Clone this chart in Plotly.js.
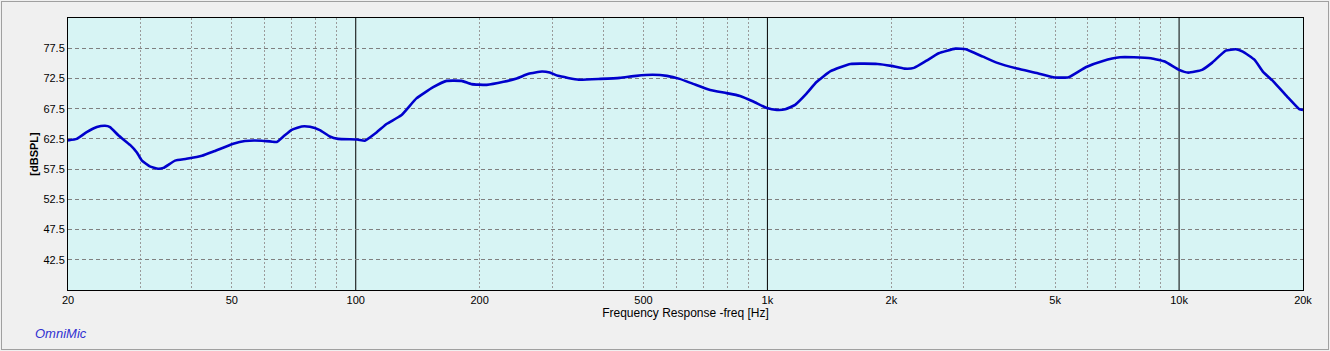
<!DOCTYPE html>
<html>
<head>
<meta charset="utf-8">
<script src="https://cdn.plot.ly/plotly-3.0.1.min.js"></script>
<style>
  html, body { margin: 0; padding: 0; background: #f0f0f0; }
  #chart { position: absolute; left: 0; top: 0; width: 1330px; height: 351px; }
  #frame { position: absolute; left: 1px; top: 1px; width: 1328px; height: 349px;
           box-sizing: border-box; border: 1px solid #a0a0a0; pointer-events: none; }
</style>
</head>
<body>
<div id="chart"></div>
<div id="frame"></div>
<script>
// Frequency response data (Hz, dB SPL)
const freqHz = [20, 21.0, 22.2, 23.5, 24.6, 25.3, 26.5, 28.3, 29.4, 30.2, 31.6, 33.1, 34.1, 36.4, 38.8,
  42.3, 45.1, 50.4, 53.8, 59.1, 64.3, 66.7, 69.9, 73.9, 77.4, 81.8, 86.5, 90.6, 100.9, 105.2,
  112.5, 119, 129, 140.4, 154.2, 166.2, 180.8, 191.2, 208, 228.6, 246, 263, 283.4, 296, 310,
  348, 393, 438, 480, 526, 570, 612, 660, 726, 796, 858, 924, 997, 1054, 1105, 1168, 1241,
  1316, 1424, 1592, 1852, 2000, 2154, 2270, 2436, 2607, 2862, 3034, 3338, 3604, 4040, 4535,
  4990, 5392, 5932, 6532, 7184, 7760, 8540, 9232, 10000, 10530, 11372, 12040, 12980, 13740,
  14280, 15260, 16000, 16960, 18300, 19580, 20000];
const splDb = [62.25, 62.5, 63.6, 64.45, 64.67, 64.45, 63.1, 61.5, 60.26, 58.95, 57.95, 57.57, 57.7, 58.9, 59.2,
  59.7, 60.4, 61.7, 62.15, 62.2, 62.0, 62.9, 64.0, 64.56, 64.5, 63.96, 62.9, 62.5, 62.4, 62.2,
  63.6, 65.0, 66.4, 69.2, 71.06, 72.1, 72.1, 71.56, 71.44, 71.94, 72.5, 73.26, 73.64, 73.47, 72.93,
  72.3, 72.43, 72.6, 72.93, 73.1, 72.93, 72.43, 71.6, 70.57, 70.07, 69.6, 68.68, 67.6, 67.3, 67.4, 68.14, 69.9,
  71.9, 73.7, 74.9, 74.9, 74.58, 74.13, 74.25, 75.45, 76.67, 77.43, 77.33, 76.1, 75.12, 74.13, 73.37,
  72.65, 72.71, 74.36, 75.4, 76.0, 76.0, 75.85, 75.3, 73.92, 73.47, 73.92, 75.12, 77.1, 77.33,
  76.94, 75.57, 73.6, 71.98, 69.5, 67.43, 67.3];

// Axis ticks
const xTickVals = [20, 50, 100, 200, 500, 1000, 2000, 5000, 10000, 20000];
const xTickText = ['20', '50', '100', '200', '500', '1k', '2k', '5k', '10k', '20k'];
const xMinorGrid = [30, 40, 50, 60, 70, 80, 90, 200, 300, 400, 500, 600, 700, 800, 900,
  2000, 3000, 4000, 5000, 6000, 7000, 8000, 9000];
const decadeLines = [100, 1000, 10000];
const yTickVals = [42.5, 47.5, 52.5, 57.5, 62.5, 67.5, 72.5, 77.5];
const xRange = [20, 20000];
const yRange = [37.5, 82.5];

const trace = {
  x: freqHz, y: splDb, type: 'scatter', mode: 'lines',
  line: { color: '#0000cc', width: 2.6, shape: 'spline', smoothing: 0.4 },
  hoverinfo: 'skip'
};

const shapes = decadeLines.map(f => ({
  type: 'line', xref: 'x', yref: 'paper', x0: f, x1: f, y0: 0, y1: 1,
  line: { color: '#000000', width: 1 }, layer: 'between'
}));

const layout = {
  width: 1330, height: 351,
  margin: { l: 68, r: 27, t: 18, b: 61 },
  paper_bgcolor: 'rgba(0,0,0,0)',
  plot_bgcolor: '#d7f4f4',
  showlegend: false,
  font: { family: 'Liberation Sans, Arial, sans-serif', size: 11, color: '#000' },
  xaxis: {
    type: 'log',
    range: xRange.map(v => Math.log10(v)),
    tickmode: 'array', tickvals: xTickVals, ticktext: xTickText,
    ticks: '', showgrid: false,
    minor: { tickmode: 'array', tickvals: xMinorGrid, ticks: '', showgrid: true,
             gridcolor: '#9a9a9a', griddash: '2px,2px', gridwidth: 1 },
    showline: true, linecolor: '#000', linewidth: 1, mirror: true,
    zeroline: false, tickfont: { size: 11, color: '#000' },
    title: { text: 'Frequency Response -freq [Hz]', font: { size: 12, color: '#000' }, standoff: 2 }
  },
  yaxis: {
    range: yRange,
    tickvals: yTickVals, ticktext: yTickVals.map(v => v.toFixed(1)),
    ticks: '', showgrid: true, gridcolor: '#808080', griddash: '4px,3px', gridwidth: 1,
    showline: true, linecolor: '#000', linewidth: 1, mirror: true,
    zeroline: false, tickfont: { size: 11, color: '#000' },
    title: { text: '<b>[dBSPL]</b>', font: { size: 11, color: '#000' }, standoff: 2 }
  },
  shapes: shapes,
  annotations: [{
    text: 'OmniMic', xref: 'paper', yref: 'paper', x: -0.0285, y: -0.125,
    xanchor: 'left', yanchor: 'top', showarrow: false,
    font: { family: 'Liberation Sans, Arial, sans-serif', size: 13, color: '#3030d0', style: 'italic' }
  }]
};

Plotly.newPlot('chart', [trace], layout, { staticPlot: true, displayModeBar: false });
</script>
</body>
</html>
